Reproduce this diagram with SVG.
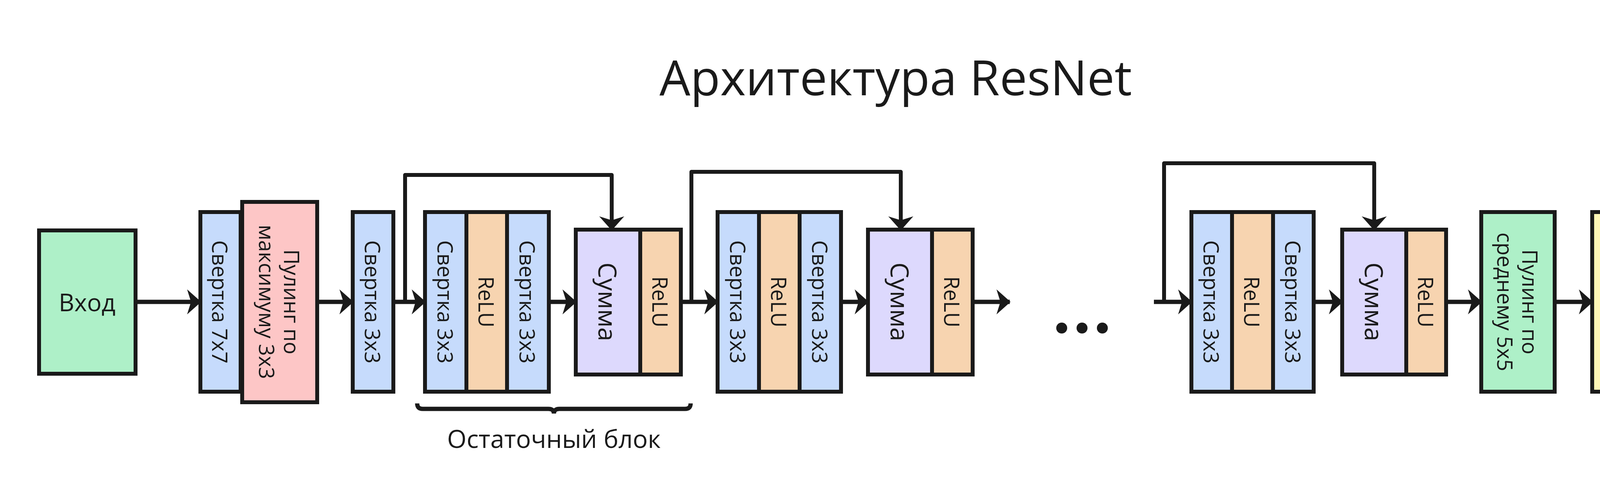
<svg xmlns="http://www.w3.org/2000/svg" width="4581" height="1288" viewBox="0 0 4581 1288">
<style>
rect{stroke:#1a1a1a;stroke-width:10}
.b{fill:#c6dbfc}.p{fill:#fdc6c6}.g{fill:#aef0c8}.o{fill:#f7d4b0}.v{fill:#ddd9fd}.y{fill:#fff7b6}
text{font-family:"Open Sans","Noto Sans",sans-serif;fill:#1a1a1a;text-anchor:middle;dominant-baseline:central}
.r{font-size:54px}.s{font-size:64px}
.ln{fill:none;stroke:#1a1a1a;stroke-width:11}
.sk{fill:none;stroke:#1a1a1a;stroke-width:10;stroke-linejoin:round}
</style>
<defs>
<marker id="a" markerUnits="userSpaceOnUse" viewBox="0 0 36 64" markerWidth="36" markerHeight="64" refX="34" refY="32" orient="auto">
<path d="M0,0 L36,32 L0,64 L10,32 Z" fill="#1a1a1a"/>
</marker>
</defs>
<rect width="4581" height="1288" fill="#fff" style="stroke:none"/>
<text x="2293" y="195" style="font-size:125px">Архитектура ResNet</text>
<g id="connectors">
<path class="ln" marker-end="url(#a)" d="M347,773H513"/>
<path class="ln" marker-end="url(#a)" d="M812,773H903"/>
<path class="ln" marker-end="url(#a)" d="M1007,773H1088"/>
<path class="ln" marker-end="url(#a)" d="M1405,773H1474"/>
<path class="ln" marker-end="url(#a)" d="M1743,773H1837"/>
<path class="ln" marker-end="url(#a)" d="M2153,773H2222"/>
<path class="ln" marker-end="url(#a)" d="M2490,773H2585"/>
<path class="ln" marker-end="url(#a)" d="M2954,773H3050"/>
<path class="ln" marker-end="url(#a)" d="M3363,773H3436"/>
<path class="ln" marker-end="url(#a)" d="M3702,773H3792"/>
<path class="ln" marker-end="url(#a)" d="M3980,773H4076"/>
<path class="ln" marker-end="url(#a)" d="M4264,773H4355"/>
<path class="sk" marker-end="url(#a)" d="M1037,773V448H1566V588"/>
<path class="sk" marker-end="url(#a)" d="M1770,773V440H2306V588"/>
<path class="sk" marker-end="url(#a)" d="M2980,773V418H3518V588"/>
</g>
<g id="input"><rect class="g" x="100" y="590" width="247" height="367"/><text x="223" y="773" style="font-size:62px">Вход</text></g>
<g id="conv7"><rect class="b" x="513" y="543" width="103" height="460"/><text class="r" transform="translate(564,773) rotate(90)">Свертка 7x7</text></g>
<g id="maxpool"><rect class="p" x="620" y="517" width="192" height="513"/><text class="r" transform="translate(716,773) rotate(90)"><tspan x="0" dy="-0.6em">Пулинг по</tspan><tspan x="0" dy="1.2em">максимуму 3x3</tspan></text></g>
<g id="conv3"><rect class="b" x="903" y="543" width="104" height="460"/><text class="r" transform="translate(955,773) rotate(90)">Свертка 3x3</text></g>
<g id="block1">
<rect class="b" x="1088" y="543" width="106" height="460"/><text class="r" transform="translate(1141,773) rotate(90)">Свертка 3x3</text>
<rect class="o" x="1194" y="543" width="104" height="460"/><text class="r" transform="translate(1246,773) rotate(90)">ReLU</text>
<rect class="b" x="1298" y="543" width="107" height="460"/><text class="r" transform="translate(1351,773) rotate(90)">Свертка 3x3</text>
</g>
<g id="sum1">
<rect class="v" x="1474" y="588" width="165" height="371"/><text class="s" transform="translate(1556,773) rotate(90)">Сумма</text>
<rect class="o" x="1639" y="588" width="104" height="371"/><text class="r" transform="translate(1691,773) rotate(90)">ReLU</text>
</g>
<g id="brace"><path class="ln" d="M1068,1033 q0,14 14,14 H1404 q14,0 14,12 q0,-12 14,-12 H1754 q14,0 14,-14"/>
<text x="1418" y="1122" style="font-size:64px">Остаточный блок</text></g>
<g id="block2">
<rect class="b" x="1837" y="543" width="106" height="460"/><text class="r" transform="translate(1890,773) rotate(90)">Свертка 3x3</text>
<rect class="o" x="1943" y="543" width="104" height="460"/><text class="r" transform="translate(1995,773) rotate(90)">ReLU</text>
<rect class="b" x="2047" y="543" width="106" height="460"/><text class="r" transform="translate(2100,773) rotate(90)">Свертка 3x3</text>
</g>
<g id="sum2">
<rect class="v" x="2222" y="588" width="164" height="371"/><text class="s" transform="translate(2304,773) rotate(90)">Сумма</text>
<rect class="o" x="2386" y="588" width="104" height="371"/><text class="r" transform="translate(2438,773) rotate(90)">ReLU</text>
</g>
<g id="dots"><circle cx="2718" cy="840" r="14" fill="#1a1a1a"/><circle cx="2770" cy="840" r="14" fill="#1a1a1a"/><circle cx="2822" cy="840" r="14" fill="#1a1a1a"/></g>
<g id="block3">
<rect class="b" x="3050" y="543" width="104" height="460"/><text class="r" transform="translate(3102,773) rotate(90)">Свертка 3x3</text>
<rect class="o" x="3154" y="543" width="105" height="460"/><text class="r" transform="translate(3206,773) rotate(90)">ReLU</text>
<rect class="b" x="3259" y="543" width="104" height="460"/><text class="r" transform="translate(3311,773) rotate(90)">Свертка 3x3</text>
</g>
<g id="sum3">
<rect class="v" x="3436" y="588" width="164" height="371"/><text class="s" transform="translate(3518,773) rotate(90)">Сумма</text>
<rect class="o" x="3600" y="588" width="102" height="371"/><text class="r" transform="translate(3651,773) rotate(90)">ReLU</text>
</g>
<g id="avgpool"><rect class="g" x="3792" y="543" width="188" height="460"/><text class="r" transform="translate(3886,773) rotate(90)"><tspan x="0" dy="-0.6em">Пулинг по</tspan><tspan x="0" dy="1.2em">среднему 5x5</tspan></text></g>
<g id="fc"><rect class="y" x="4076" y="543" width="188" height="460"/><text class="r" transform="translate(4170,773) rotate(90)"><tspan x="0" dy="-0.6em">Полносвязный</tspan><tspan x="0" dy="1.2em">слой</tspan></text></g>
<g id="softmax"><rect class="o" x="4355" y="618" width="118" height="310"/><text class="r" transform="translate(4414,773) rotate(90)">Softmax</text></g>
</svg>
